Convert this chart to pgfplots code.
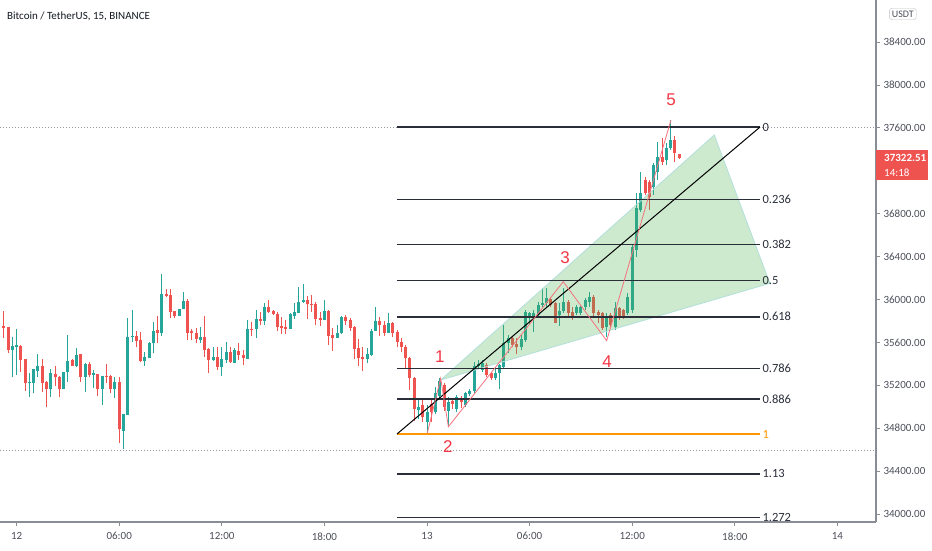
\documentclass[border=0pt]{standalone}
\usepackage{fontspec}
\setmainfont{Carlito}
\newfontfamily\lib{Liberation Sans}
\usepackage{pgfplots}
\pgfplotsset{compat=1.18}
\usepackage{pgfplotstable}
\definecolor{cgreen}{HTML}{26A69A}
\definecolor{cred}{HTML}{EF5350}
\definecolor{wave}{HTML}{F23645}
\definecolor{fibc}{HTML}{2A2E39}
\definecolor{orng}{HTML}{FF9800}
\definecolor{axg}{HTML}{8A8D96}
\definecolor{tickc}{HTML}{4C4F5A}
\definecolor{dotg}{HTML}{9598A1}
\definecolor{trif}{HTML}{4CAF50}
\definecolor{titlec}{HTML}{131722}

\pgfplotstableread{
k O H L C
2 35529 35653 35274 35569
3 35560 35722 35296 35575
6 35218 35318 35094 35234
7 35224 35352 35125 35349
8 35336 35488 35274 35380
11 35162 35349 35094 35311
14 35162 35327 35162 35327
15 35321 35666 35234 35429
17 35380 35544 35373 35482
19 35280 35411 35134 35398
21 35293 35342 35178 35311
23 35162 35286 35019 35286
26 35162 35274 35078 35234
28 34777 34932 34603 34932
29 34923 35824 34923 35653
30 35647 35902 35607 35659
33 35423 35513 35383 35460
34 35451 35607 35451 35597
35 35591 35790 35498 35709
37 35691 36237 35659 36051
41 35846 35908 35846 35908
42 35908 36070 35908 35986
46 35622 35740 35591 35653
49 35436 35554 35429 35467
51 35373 35560 35290 35442
52 35436 35600 35411 35513
54 35411 35544 35405 35529
57 35445 35809 35442 35722
59 35722 35902 35638 35815
61 35802 35964 35762 35927
67 35728 35877 35725 35865
68 35849 35970 35821 35886
69 35877 36120 35871 35980
70 35977 36144 35970 35995
75 35809 35995 35809 35893
78 35644 35762 35644 35691
79 35684 35846 35678 35833
85 35442 35544 35405 35492
86 35482 35722 35473 35709
87 35709 35927 35709 35799
90 35691 35871 35691 35784
97 34970 35069 34890 35000
99 34861 35016 34752 34954
101 34950 35180 34930 35130
102 35100 35265 35060 35240
104 34960 35090 34815 35040
106 34980 35110 34950 35090
108 35020 35140 35000 35130
109 35120 35170 35100 35150
110 35150 35420 35130 35380
111 35380 35440 35350 35400
112 35343 35436 35327 35405
115 35265 35374 35249 35318
116 35312 35399 35162 35389
117 35374 35762 35358 35591
118 35591 35669 35498 35638
121 35554 35669 35529 35629
122 35622 35902 35607 35887
123 35840 35887 35762 35877
124 35824 35902 35700 35871
125 35855 35980 35840 35949
126 35949 36104 35933 35970
127 35964 36104 35927 36011
130 35855 35964 35753 35896
131 35896 36104 35877 35980
134 35871 35949 35855 35927
135 35871 35940 35860 35927
136 35933 36011 35902 35995
137 35980 36073 35933 36026
141 35747 35871 35650 35840
143 35747 35980 35716 35918
146 35871 36057 35855 36026
147 35902 36508 35871 36493
148 36462 36990 36400 36850
149 36834 37192 36819 36990
152 37052 37270 36974 37254
153 37192 37472 37114 37332
155 37301 37456 37254 37409
156 37409 37674 37394 37487
}\greenT

\pgfplotstableread{
k O H L C
0 35753 35893 35638 35731
1 35740 35745 35504 35529
4 35569 35575 35327 35436
5 35442 35448 35150 35218
9 35380 35448 35140 35224
10 35234 35240 34994 35162
12 35305 35380 35193 35274
13 35280 35285 35088 35162
16 35436 35448 35380 35380
18 35488 35492 35227 35280
20 35398 35420 35274 35296
22 35302 35306 35100 35162
24 35290 35395 35224 35280
25 35290 35294 35125 35162
27 35227 35274 34662 34789
31 35663 35709 35554 35613
32 35622 35700 35417 35426
36 35712 35846 35591 35691
38 36051 36095 36026 36035
39 36042 36095 35824 35886
40 35893 35897 35824 35846
43 35986 36001 35622 35691
44 35703 35722 35622 35684
45 35684 35737 35591 35628
47 35653 35846 35467 35529
48 35535 35544 35311 35436
50 35467 35554 35342 35373
53 35513 35554 35411 35414
55 35523 35591 35436 35482
56 35482 35529 35386 35451
58 35725 35790 35659 35715
60 35815 35880 35759 35802
62 35927 35995 35877 35886
63 35893 35902 35855 35861
64 35861 35883 35709 35746
65 35753 35840 35678 35737
66 35746 35805 35678 35728
71 35995 36033 35821 35955
72 35958 36042 35886 35949
73 35961 35980 35762 35815
74 35824 35886 35753 35809
76 35893 35902 35575 35659
77 35669 35731 35523 35638
80 35833 35855 35762 35802
81 35809 35824 35709 35737
82 35740 35753 35442 35535
83 35544 35631 35380 35451
84 35467 35554 35333 35442
88 35799 35840 35659 35759
89 35762 35802 35659 35691
91 35784 35793 35647 35691
92 35694 35715 35554 35607
93 35607 35638 35513 35560
94 35560 35575 35364 35455
95 35457 35467 35156 35265
96 35265 35280 34870 34980
98 35016 35069 34861 34900
100 35030 35075 34860 34950
103 35200 35220 34960 35000
105 35050 35080 34980 35030
107 35070 35100 34990 35040
113 35389 35405 35280 35296
114 35312 35327 35249 35265
119 35638 35660 35554 35576
120 35585 35638 35492 35554
128 36001 36026 35933 35949
129 35964 35980 35778 35784
132 35980 35995 35824 35871
133 35887 35933 35809 35840
138 36026 36042 35840 35871
139 35887 35902 35778 35855
140 35871 35887 35716 35731
142 35855 35870 35740 35762
144 35918 35933 35809 35824
145 35902 35915 35820 35834
150 37114 37145 36974 36990
151 37099 37114 36834 36959
154 37332 37503 37254 37285
157 37487 37524 37285 37363
158 37356 37360 37310 37322
}\redT

\begin{document}
\begin{tikzpicture}
\begin{axis}[
  at={(0,0)}, anchor=south west,
  width=876pt, height=522pt, scale only axis,
  xmin=-0.884, xmax=204.03, ymin=33925.4, ymax=38792.5,
  axis x line*=bottom, axis y line*=right,
  axis line style={axg, line width=1.4pt},
  tick align=outside, major tick length=4pt,
  tick style={axg, line width=0.8pt},
  xtick={3,27,51,75,99,123,147,171,195},
  xticklabels={12,06:00,12:00,18:00,13,06:00,12:00,18:00,14},
  ytick={34000,34400,34800,35200,35600,36000,36400,36800,37600,38000,38400,38800},
  yticklabels={34000.00,34400.00,34800.00,35200.00,35600.00,36000.00,36400.00,36800.00,37600.00,38000.00,38400.00,38800.00},
  ticklabel style={font=\fontsize{11}{13}\selectfont, text=tickc},
  xticklabel style={yshift=-3pt},
  /pgf/number format/assume math mode=true,
  clip=false,
]
\coordinate (BL) at (rel axis cs:0,0);
\coordinate (TR) at (rel axis cs:1,1);

% dotted reference lines
\addplot[dotg, line width=0.8pt, dash pattern=on 1pt off 2pt] coordinates {(-0.884,37608) (204.03,37608)};
\addplot[dotg, line width=0.8pt, dash pattern=on 1pt off 2pt] coordinates {(-0.884,34597) (204.03,34597)};

% wicks
\addplot[draw=none, error bars/.cd, y dir=plus, y explicit, error mark=none, error bar style={draw=cgreen, line width=1pt}]
  table[x=k, y=L, y error expr=\thisrow{H}-\thisrow{L}] {\greenT};
\addplot[draw=none, error bars/.cd, y dir=plus, y explicit, error mark=none, error bar style={draw=cred, line width=1pt}]
  table[x=k, y=L, y error expr=\thisrow{H}-\thisrow{L}] {\redT};
% bodies
\addplot[draw=none, error bars/.cd, y dir=plus, y explicit, error mark=none, error bar style={draw=cgreen, line width=3pt}]
  table[x=k, y=O, y error expr=\thisrow{C}-\thisrow{O}] {\greenT};
\addplot[draw=none, error bars/.cd, y dir=plus, y explicit, error mark=none, error bar style={draw=cred, line width=3pt}]
  table[x=k, y=C, y error expr=\thisrow{O}-\thisrow{C}] {\redT};

% triangle
\addplot[fill=trif, fill opacity=0.28, draw=cgreen!35, line width=0.8pt] coordinates {(102.2,35249) (166.2,37534) (179.2,36151) (102.2,35249)};

% fib levels
\addplot[fibc, line width=1.5pt] coordinates {(91.98,37608) (176.9,37608)};
\addplot[fibc, line width=1.5pt] coordinates {(91.98,36933) (176.9,36933)};
\addplot[fibc, line width=1.5pt] coordinates {(91.98,36515) (176.9,36515)};
\addplot[fibc, line width=1.5pt] coordinates {(91.98,36177) (176.9,36177)};
\addplot[fibc, line width=1.5pt] coordinates {(91.98,35839) (176.9,35839)};
\addplot[fibc, line width=1.5pt] coordinates {(91.98,35358) (176.9,35358)};
\addplot[fibc, line width=1.5pt] coordinates {(91.98,35072) (176.9,35072)};
\addplot[orng, line width=1.5pt] coordinates {(91.98,34746) (176.9,34746)};
\addplot[fibc, line width=1.5pt] coordinates {(91.98,34374) (176.9,34374)};
\addplot[fibc, line width=1.5pt] coordinates {(91.98,33968) (176.9,33968)};

% trend diagonal
\addplot[black, line width=1pt] coordinates {(91.98,34746) (176.9,37608)};

% elliott zigzag
\addplot[wave!70, line width=0.8pt] coordinates {(99.06,34752) (102.2,35265) (104.0,34814) (130.88,36166) (141.03,35616) (156.07,37674)};

% fib labels
\begin{scope}[every node/.style={anchor=west, inner sep=1.5pt, font=\fontsize{12.5}{14}\selectfont, text=fibc}]
\node at (axis cs:177.1,37608) {0};
\node at (axis cs:177.1,36933) {0.236};
\node at (axis cs:177.1,36515) {0.382};
\node at (axis cs:177.1,36177) {0.5};
\node at (axis cs:177.1,35839) {0.618};
\node at (axis cs:177.1,35358) {0.786};
\node at (axis cs:177.1,35072) {0.886};
\node[text=orng] at (axis cs:177.1,34746) {1};
\node at (axis cs:177.1,34374) {1.13};
\node at (axis cs:177.1,33968) {1.272};
\end{scope}

% wave labels
\begin{scope}[every node/.style={text=wave, font=\lib\fontsize{17}{20}\selectfont, inner sep=0pt}]
\node at (axis cs:102.0,35464) {1};
\node at (axis cs:103.9,34625) {2};
\node at (axis cs:131.3,36387) {3};
\node at (axis cs:141.1,35417) {4};
\node at (axis cs:156.1,37860) {5};
\end{scope}

% title
\node[anchor=west, text=titlec, font=\fontsize{11}{13}\selectfont, inner sep=0pt] at (axis cs:0.75,38643) {Bitcoin / TetherUS, 15, BINANCE};

% USDT box
\node[draw=black!25, rounded corners=3pt, text=tickc, font=\fontsize{10}{12}\selectfont, inner sep=2.5pt] at (axis cs:210.3,38662) {USDT};

% last price box
\node[anchor=west, fill=cred, minimum width=52pt, minimum height=30pt, inner sep=0pt] at (axis cs:204.03,37254) {};
\node[anchor=west, text=white, inner sep=0pt, font=\fontsize{11}{13}\bfseries\selectfont] at (axis cs:205.9,37322) {37322.51};
\node[anchor=west, text=white, inner sep=0pt, font=\fontsize{11}{13}\selectfont] at (axis cs:205.9,37185) {14:18};
\end{axis}
\pgfresetboundingbox
\path[use as bounding box] ([yshift=-28pt]BL) rectangle ([xshift=56pt]TR);
\end{tikzpicture}
\end{document}
